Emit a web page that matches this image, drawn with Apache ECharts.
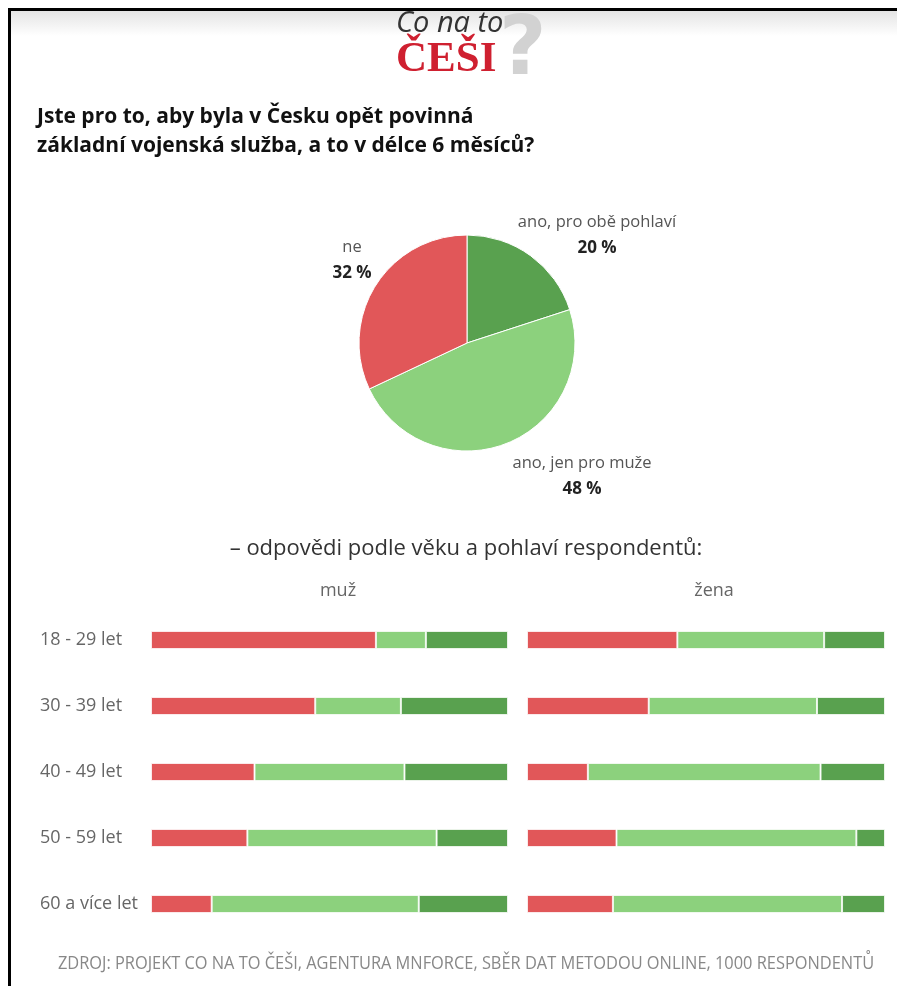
<!DOCTYPE html>
<html>
<head>
<meta charset="utf-8">
<script src="https://cdn.jsdelivr.net/npm/echarts@6/dist/echarts.min.js"></script>
<style>
html,body{margin:0;padding:0;background:#fff;}
#chart{width:897px;height:986px;}
</style>
</head>
<body>
<div id="chart"></div>
<script>
// ---- data ----
var pieNames = ['ano, pro obě pohlaví', 'ano, jen pro muže', 'ne'];
var pieValues = [20, 48, 32];

var ageGroups = ['18 - 29 let', '30 - 39 let', '40 - 49 let', '50 - 59 let', '60 a více let'];
var genders = ['muž', 'žena'];

var menNe = [63, 46, 29, 27, 17];
var menMuze = [14, 24, 42, 53, 58];
var menObe = [23, 30, 29, 20, 25];

var womenNe = [42, 34, 17, 25, 24];
var womenMuze = [41, 47, 65, 67, 64];
var womenObe = [17, 19, 18, 8, 12];

var titleLines = ['Jste pro to, aby byla v Česku opět povinná', 'základní vojenská služba, a to v délce 6 měsíců?'];
var subtitleText = '– odpovědi podle věku a pohlaví respondentů:';
var sourceText = 'ZDROJ: PROJEKT CO NA TO ČEŠI, AGENTURA MNFORCE, SBĚR DAT METODOU ONLINE, 1000 RESPONDENTŮ';

// ---- styles ----
var RED = '#e15759', LIGHT = '#8cd17d', DARK = '#59a14f';
var colors = [DARK, LIGHT, RED];
var FONT = '"Open Sans", "Noto Sans", sans-serif';

var chart = echarts.init(document.getElementById('chart'), null, {renderer: 'canvas'});

var labelPos = [
  {x: 597, y: 235},
  {x: 582, y: 476},
  {x: 352, y: 260}
];

function barSeries(name, data, color, gridIdx) {
  return {
    type: 'bar', name: name, stack: 'g' + gridIdx,
    xAxisIndex: gridIdx, yAxisIndex: gridIdx,
    data: data, barWidth: 18,
    itemStyle: {color: color, borderColor: 'rgba(255,255,255,0.75)', borderWidth: 1},
    silent: true, animation: false
  };
}

var option = {
  animation: false,
  textStyle: {fontFamily: FONT},
  graphic: [
    {type: 'rect', shape: {x: 8, y: 10, width: 889, height: 26},
      style: {fill: new echarts.graphic.LinearGradient(0, 0, 0, 1, [{offset: 0, color: '#e3e3e3'}, {offset: 1, color: '#ffffff'}])}, z: -1},
    {type: 'rect', shape: {x: 8, y: 8, width: 889, height: 3}, style: {fill: '#000'}},
    {type: 'rect', shape: {x: 8, y: 8, width: 3, height: 978}, style: {fill: '#000'}},
    // logo
    {type: 'text', left: 499, top: 12, z: 1,
      style: {text: '?', font: 'bold 82px "DejaVu Sans", sans-serif', fill: '#d2d2d2'}},
    {type: 'text', left: 396, top: 9, z: 2,
      style: {text: 'Co na to', font: 'italic 29px "Open Sans", sans-serif', fill: '#333'}},
    {type: 'text', left: 396, top: 38, z: 2,
      style: {text: 'ČEŠI', font: 'bold 43px "Liberation Serif", serif', fill: '#cf2030'}},
    // title
    {type: 'text', left: 37, top: 103,
      style: {text: titleLines.join('\n'), font: 'bold 21px ' + FONT, fill: '#111', lineHeight: 29}},
    // subtitle
    {type: 'text', x: 466, y: 549,
      style: {text: subtitleText, font: '22px ' + FONT, fill: '#333', align: 'center', verticalAlign: 'middle'}},
    // column headers
    {type: 'text', x: 338, y: 591, style: {text: genders[0], font: '18px ' + FONT, fill: '#666', align: 'center', verticalAlign: 'middle'}},
    {type: 'text', x: 714, y: 591, style: {text: genders[1], font: '18px ' + FONT, fill: '#666', align: 'center', verticalAlign: 'middle'}},
    // footer
    {type: 'text', x: 466, y: 964, scaleX: 0.91, originX: 0, originY: 0,
      style: {text: sourceText, font: '18px ' + FONT, fill: '#888', align: 'center', verticalAlign: 'middle'}}
  ],
  grid: [
    {left: 151, top: 607, width: 357, height: 330},
    {left: 527, top: 607, width: 358, height: 330}
  ],
  xAxis: [
    {gridIndex: 0, type: 'value', min: 0, max: 100, show: false},
    {gridIndex: 1, type: 'value', min: 0, max: 100, show: false}
  ],
  yAxis: [
    {gridIndex: 0, type: 'category', data: ageGroups, inverse: true,
      axisLine: {show: false}, axisTick: {show: false}, splitLine: {show: false},
      axisLabel: {align: 'left', margin: 111, color: '#666', fontSize: 18, fontFamily: FONT}},
    {gridIndex: 1, type: 'category', data: ageGroups, inverse: true, show: false}
  ],
  series: [
    {
      type: 'pie', center: [467, 343], radius: 108, startAngle: 90, clockwise: true,
      silent: true, animation: false,
      data: pieNames.map(function (n, i) { return {name: n, value: pieValues[i], itemStyle: {color: colors[i]}}; }),
      itemStyle: {borderColor: '#fff', borderWidth: 1},
      label: {
        show: true, position: 'outside',
        formatter: function (p) { return '{n|' + p.name + '}\n{v|' + p.value + ' %}'; },
        rich: {
          n: {color: '#555', fontSize: 16.5, fontFamily: FONT, lineHeight: 26, align: 'center'},
          v: {color: '#222', fontSize: 17, fontWeight: 'bold', fontFamily: FONT, lineHeight: 26, align: 'center'}
        }
      },
      labelLine: {show: false},
      labelLayout: function (p) {
        var pos = labelPos[p.dataIndex];
        return {x: pos.x, y: pos.y, align: 'center', verticalAlign: 'middle'};
      }
    },
    barSeries('ne', menNe, RED, 0),
    barSeries('ano, jen pro muže', menMuze, LIGHT, 0),
    barSeries('ano, pro obě pohlaví', menObe, DARK, 0),
    barSeries('ne', womenNe, RED, 1),
    barSeries('ano, jen pro muže', womenMuze, LIGHT, 1),
    barSeries('ano, pro obě pohlaví', womenObe, DARK, 1)
  ]
};
chart.setOption(option);
</script>
</body>
</html>
